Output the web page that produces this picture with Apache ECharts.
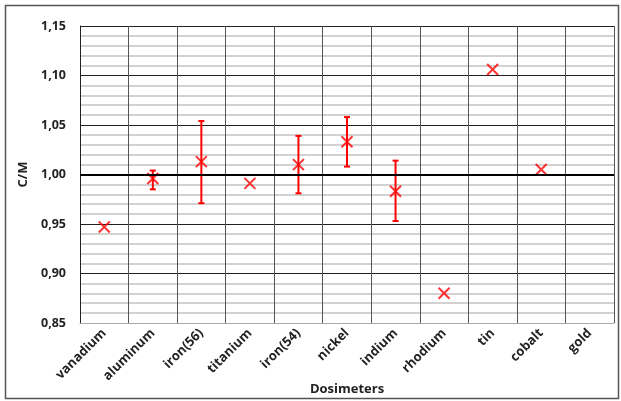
<!DOCTYPE html>
<html><head><meta charset="utf-8">
<script src="https://cdn.jsdelivr.net/npm/echarts@6/dist/echarts.min.js"></script>
<style>html,body{margin:0;padding:0;background:#fff}#c{width:621px;height:401px}</style>
</head><body><div id="c"></div>
<script>
const categories = ['vanadium','aluminum','iron(56)','titanium','iron(54)','nickel','indium','rhodium','tin','cobalt','gold'];
const cmValues = [0.947, 0.996, 1.013, 0.991, 1.010, 1.033, 0.983, 0.880, 1.106, 1.005, null];
const errLow  = [null, 0.985, 0.971, null, 0.981, 1.008, 0.953, null, null, null, null];
const errHigh = [null, 1.004, 1.054, null, 1.039, 1.058, 1.014, null, null, null, null];
const yTicks = [0.85, 0.90, 0.95, 1.00, 1.05, 1.10, 1.15];

const font = '"Open Sans", Lato, sans-serif';
const chart = echarts.init(document.getElementById('c'));
const errData = categories.map((c, i) => errLow[i] == null ? null : [i, errLow[i], errHigh[i]]).filter(d => d);
chart.setOption({
  animation: false,
  graphic: [{type:'rect', shape:{x:5.5,y:5.5,width:613,height:393}, style:{fill:'none', stroke:'#555', lineWidth:1.5}, z:-1}],
  grid: {left: 80, right: 7, top: 26, bottom: 78, show: false, containLabel: false, outerBoundsMode: 'none'},
  xAxis: {
    type: 'category', data: categories, boundaryGap: true,
    name: 'Dosimeters', nameLocation: 'middle', nameGap: 60, nameMoveOverlap: false,
    nameTextStyle: {fontFamily: font, fontWeight: 'bold', fontSize: 13, color: '#222'},
    axisLine: {lineStyle: {color: '#aaa', width: 1}},
    axisTick: {show: false},
    axisLabel: {rotate: 45, interval: 0, fontFamily: font, fontWeight: 'bold', fontSize: 13, color: '#222', margin: 8},
    splitLine: {show: true, interval: 0, lineStyle: {color: '#555', width: 1}}
  },
  yAxis: {
    type: 'value', min: yTicks[0], max: yTicks[yTicks.length-1], interval: 0.05,
    name: 'C/M', nameLocation: 'middle', nameGap: 50, nameRotate: 90, nameMoveOverlap: false,
    nameTextStyle: {fontFamily: font, fontWeight: 'bold', fontSize: 13, color: '#222'},
    axisLine: {show: true, lineStyle: {color: '#222', width: 1}},
    axisTick: {show: false},
    axisLabel: {fontFamily: font, fontWeight: 'bold', fontSize: 12.5, color: '#222', margin: 14,
      formatter: v => v.toFixed(2).replace('.', ',')},
    splitLine: {show: true, lineStyle: {color: '#222', width: 1}},
    minorTick: {show: false, splitNumber: 5},
    minorSplitLine: {show: true, lineStyle: {color: '#c4c4c4', width: 1.5}}
  },
  series: [
    {
      type: 'custom', data: errData, z: 3,
      renderItem: (params, api) => {
        const x = api.value(0);
        const lo = api.coord([x, api.value(1)]);
        const hi = api.coord([x, api.value(2)]);
        const st = {stroke: '#ff0000', lineWidth: 2};
        return {type: 'group', children: [
          {type: 'line', shape: {x1: lo[0], y1: lo[1], x2: hi[0], y2: hi[1]}, style: st},
          {type: 'line', shape: {x1: lo[0]-3, y1: lo[1], x2: lo[0]+3, y2: lo[1]}, style: st},
          {type: 'line', shape: {x1: hi[0]-3, y1: hi[1], x2: hi[0]+3, y2: hi[1]}, style: st}
        ]};
      }
    },
    {
      type: 'scatter', data: cmValues, z: 4,
      symbol: 'path://M0,0 L10,10 M10,0 L0,10', symbolSize: 11,
      itemStyle: {color: 'none', borderColor: '#ff0000', borderWidth: 2},
      markLine: {silent: true, symbol: 'none', label: {show: false},
        lineStyle: {color: '#000', width: 2, type: 'solid'}, data: [{yAxis: 1.0}]}
    }
  ]
});
</script></body></html>
